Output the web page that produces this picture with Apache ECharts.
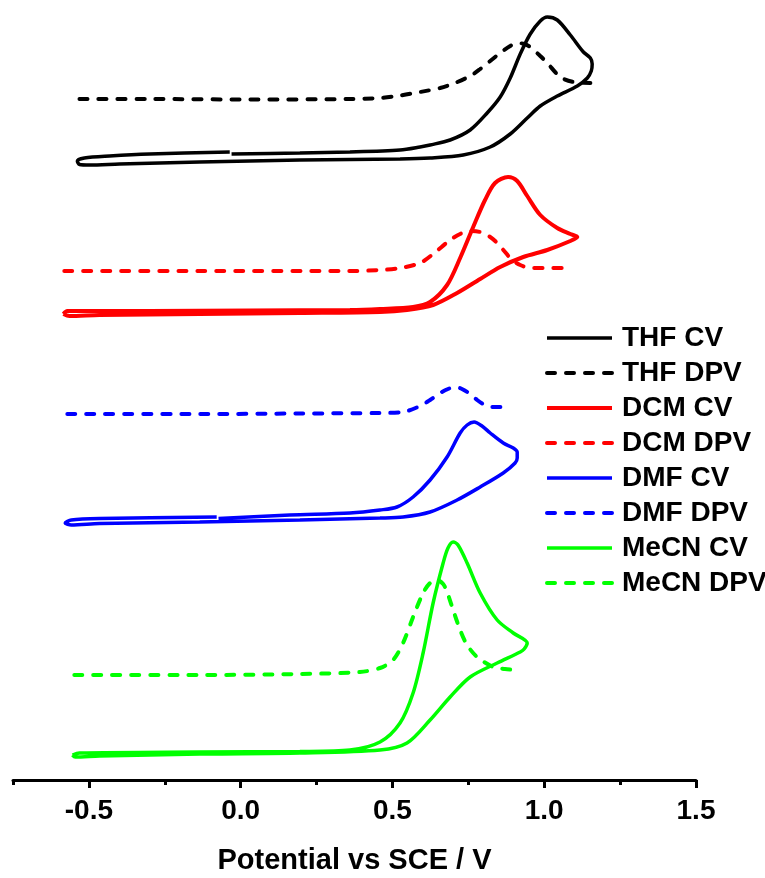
<!DOCTYPE html>
<html>
	<head>
		<meta charset="UTF-8">
		<title></title>
		<script type="text/javascript" src="https://cdn.jsdelivr.net/npm/echarts@6/dist/echarts.min.js"></script>
		<style>
			html, body { margin: 0; padding: 0; background: #fff; }
		</style>
	</head>
	<body>
		<div id="main" style="height:878px;width:765px"></div>
	</body>
</html>
<script>
	// 数据: [电位 V, 电流(任意单位, 已偏移)]
	var majorTicks = [-0.5, 0, 0.5, 1.0, 1.5];
	var minorTicks = [-0.75, -0.25, 0.25, 0.75, 1.25];
	var names = ['THF CV', 'THF DPV', 'DCM CV', 'DCM DPV', 'DMF CV', 'DMF DPV', 'MeCN CV', 'MeCN DPV'];

	var thfCV = [[-0.030, 62.6], [0.195, 62.7], [0.360, 62.8], [0.525, 63.0], [0.591, 63.3], [0.624, 63.5],
		[0.690, 64.0], [0.756, 65.0], [0.812, 66.7], [0.855, 68.3], [0.888, 70.2], [0.921, 72.6], [0.954, 74.6],
		[0.987, 75.9], [1.010, 76.3], [1.043, 76.0], [1.086, 74.5], [1.129, 72.8], [1.152, 72.2], [1.158, 71.6],
		[1.155, 70.9], [1.142, 70.2], [1.109, 69.4], [1.043, 68.4], [0.987, 67.4], [0.944, 66.2], [0.888, 64.6],
		[0.822, 63.3], [0.733, 62.5], [0.624, 62.2], [0.525, 62.1], [0.195, 62.0], [-0.135, 61.8],
		[-0.399, 61.6], [-0.498, 61.5], [-0.531, 61.55], [-0.538, 61.9], [-0.515, 62.2], [-0.432, 62.4],
		[-0.300, 62.6], [-0.036, 62.8]];
	var thfDPV = [[-0.531, 68.1], [-0.300, 68.1], [0.030, 68.05], [0.360, 68.1], [0.459, 68.2], [0.525, 68.45],
		[0.591, 68.8], [0.657, 69.2], [0.706, 69.7], [0.756, 70.4], [0.789, 71.1], [0.822, 71.9], [0.855, 72.7],
		[0.888, 73.4], [0.911, 73.7], [0.934, 73.6], [0.954, 73.3], [0.987, 72.4], [1.010, 71.7], [1.053, 70.3],
		[1.096, 69.8], [1.152, 69.7]];

	var dcmCV = [[-0.584, 46.6], [-0.571, 46.9], [-0.300, 46.9], [0.030, 46.95], [0.360, 47.0], [0.459, 47.1],
		[0.568, 47.3], [0.624, 47.8], [0.680, 49.5], [0.723, 52.2], [0.766, 55.3], [0.805, 58.0], [0.838, 59.7],
		[0.881, 60.3], [0.911, 59.9], [0.944, 58.4], [0.987, 56.5], [1.043, 55.2], [1.086, 54.6], [1.109, 54.3],
		[1.086, 53.9], [1.010, 53.0], [0.931, 52.3], [0.855, 51.3], [0.789, 50.1], [0.713, 48.7], [0.634, 47.5],
		[0.548, 47.0], [0.459, 46.8], [0.195, 46.7], [-0.135, 46.6], [-0.465, 46.5], [-0.564, 46.4],
		[-0.584, 46.6]];
	var dcmDPV = [[-0.581, 50.9], [-0.135, 50.9], [0.360, 50.9], [0.459, 51.0], [0.525, 51.2], [0.591, 51.7],
		[0.634, 52.6], [0.690, 54.0], [0.723, 54.6], [0.756, 54.9], [0.789, 54.8], [0.822, 54.3], [0.845, 53.7],
		[0.871, 52.8], [0.894, 52.0], [0.921, 51.5], [0.954, 51.2], [1.003, 51.2], [1.079, 51.2]];

	var dmfCV = [[-0.073, 26.15], [0.162, 26.5], [0.360, 26.7], [0.459, 27.0], [0.515, 27.3], [0.568, 28.3],
		[0.624, 30.0], [0.680, 32.3], [0.723, 34.7], [0.746, 35.5], [0.769, 35.8], [0.795, 35.4], [0.822, 34.7],
		[0.865, 33.7], [0.898, 33.2], [0.911, 32.8], [0.911, 32.2], [0.904, 31.7], [0.865, 30.7], [0.789, 29.3],
		[0.713, 28.0], [0.624, 26.8], [0.535, 26.3], [0.459, 26.2], [0.195, 26.0], [-0.135, 25.8],
		[-0.465, 25.65], [-0.558, 25.5], [-0.578, 25.7], [-0.558, 26.0], [-0.465, 26.15], [-0.079, 26.3]];
	var dmfDPV = [[-0.571, 36.6], [-0.135, 36.6], [0.195, 36.65], [0.459, 36.7], [0.535, 36.8], [0.591, 37.4],
		[0.624, 38.0], [0.657, 38.7], [0.683, 39.1], [0.706, 39.3], [0.729, 39.1], [0.756, 38.6], [0.779, 38.0],
		[0.799, 37.6], [0.828, 37.3], [0.855, 37.3], [0.881, 37.4]];

	var mecnCV = [[-0.554, 2.5], [-0.531, 2.7], [-0.135, 2.8], [0.195, 2.85], [0.360, 3.0], [0.459, 3.8],
		[0.525, 5.7], [0.568, 8.7], [0.601, 12.7], [0.634, 17.7], [0.667, 21.7], [0.683, 23.2], [0.700, 23.8],
		[0.716, 23.5], [0.746, 21.7], [0.789, 18.7], [0.845, 16.0], [0.898, 14.7], [0.944, 13.7], [0.934, 13.1],
		[0.921, 12.8], [0.845, 11.7], [0.756, 10.3], [0.690, 8.3], [0.624, 6.0], [0.548, 3.7], [0.459, 3.0],
		[0.195, 2.7], [-0.135, 2.6], [-0.465, 2.4], [-0.545, 2.3], [-0.554, 2.5]];
	var mecnDPV = [[-0.548, 10.5], [-0.135, 10.5], [0.195, 10.6], [0.393, 10.8], [0.459, 11.2], [0.502, 12.0],
		[0.535, 13.7], [0.568, 16.3], [0.601, 18.7], [0.624, 19.7], [0.647, 20.0], [0.667, 19.6], [0.680, 18.8],
		[0.700, 17.0], [0.723, 15.0], [0.746, 13.5], [0.779, 12.3], [0.832, 11.3], [0.871, 11.1], [0.911, 11.0]];

	var myChart = echarts.init(document.getElementById("main"));
	var font = 'Liberation Sans, Arial, sans-serif';

	function cv(name, data, color, w) {
		return {
			name: name, type: 'line', data: data, symbol: 'none', smooth: 0.3,
			lineStyle: { color: color, width: w, type: 'solid' },
			itemStyle: { color: color }
		};
	}
	function dpv(name, data, color, w) {
		return {
			name: name, type: 'line', data: data, symbol: 'none', smooth: 0.3,
			lineStyle: { color: color, width: w, type: [8, 11], cap: 'round' },
			itemStyle: { color: color }
		};
	}

	var option = {
		animation: false,
		grid: { left: 13, right: 69, top: 0, bottom: 98, outerBoundsMode: 'none' },
		legend: {
			data: names,
			orient: 'vertical',
			left: 545,
			top: 324,
			padding: 0,
			itemWidth: 65,
			itemHeight: 14,
			itemGap: 7,
			itemStyle: { opacity: 0 },
			lineStyle: { width: 'inherit', type: 'inherit', cap: 'inherit' },
			textStyle: { fontFamily: font, fontSize: 28, fontWeight: 'bold', color: '#000', lineHeight: 28, padding: [0, 0, 0, 5] }
		},
		xAxis: [{
			type: 'value',
			min: -0.75,
			max: 1.5,
			name: 'Potential vs SCE / V',
			nameLocation: 'middle',
			nameGap: 66,
			nameTextStyle: { fontFamily: font, fontSize: 29, fontWeight: 'bold', color: '#000' },
			axisLine: { lineStyle: { color: '#000', width: 3 } },
			axisTick: { show: true, length: 8, lineStyle: { width: 3, color: '#000' }, customValues: majorTicks },
			axisLabel: {
				customValues: majorTicks,
				fontFamily: font, fontSize: 28, fontWeight: 'bold', color: '#000', margin: 17,
				formatter: function (v) { return v.toFixed(1); }
			},
			splitLine: { show: false }
		}, {
			type: 'value',
			min: -0.75,
			max: 1.5,
			position: 'bottom',
			axisLine: { show: false },
			axisTick: { show: true, length: 5, lineStyle: { width: 3, color: '#000' }, customValues: minorTicks },
			axisLabel: { show: false },
			splitLine: { show: false }
		}],
		yAxis: { type: 'value', min: 0, max: 78, show: false },
		series: [
			cv('THF CV', thfCV, '#000000', 3.5),
			dpv('THF DPV', thfDPV, '#000000', 4),
			cv('DCM CV', dcmCV, '#ff0000', 4),
			dpv('DCM DPV', dcmDPV, '#ff0000', 4),
			cv('DMF CV', dmfCV, '#0000ff', 3.5),
			dpv('DMF DPV', dmfDPV, '#0000ff', 4),
			cv('MeCN CV', mecnCV, '#00ff00', 3.5),
			dpv('MeCN DPV', mecnDPV, '#00ff00', 4)
		]
	};

	myChart.setOption(option);
</script>
